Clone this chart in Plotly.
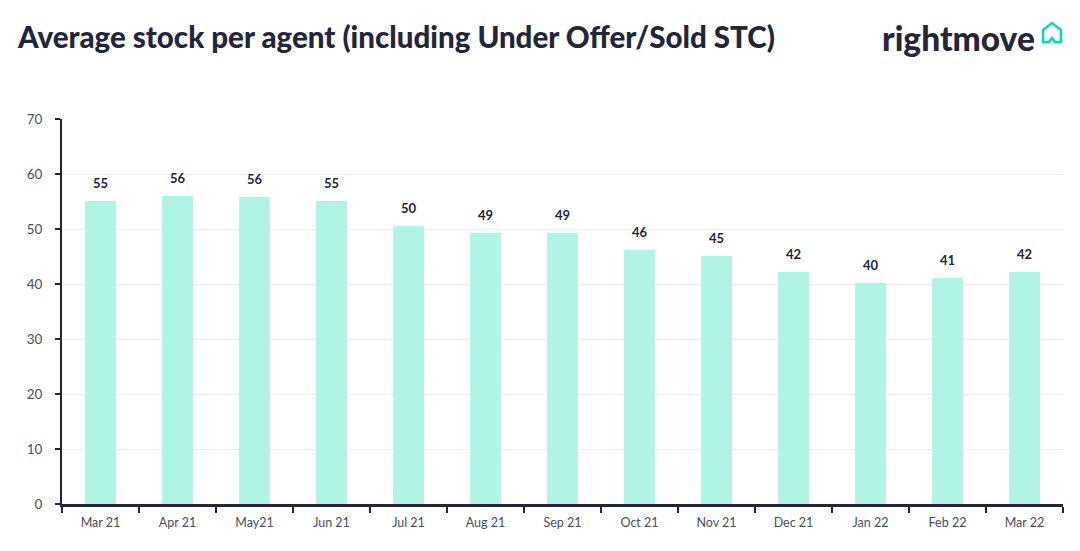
import plotly.graph_objects as go

months = ["Mar 21", "Apr 21", "May21", "Jun 21", "Jul 21", "Aug 21", "Sep 21",
          "Oct 21", "Nov 21", "Dec 21", "Jan 22", "Feb 22", "Mar 22"]
stock = [55.1, 56.0, 55.8, 55.1, 50.5, 49.3, 49.3, 46.2, 45.1, 42.2, 40.2, 41.1, 42.2]
labels = ["55", "56", "56", "55", "50", "49", "49", "46", "45", "42", "40", "41", "42"]
y_ticks = [0, 10, 20, 30, 40, 50, 60, 70]

navy = "#23263b"
teal_bar = "#b0f4e6"
W, H = 1080, 551
OFF = 8  # page body margin
L, T = 62 - OFF, 119 - OFF
R = W - (1063 - OFF)
B = H - (504 - OFF)

fig = go.Figure(go.Bar(
    x=months, y=stock,
    marker=dict(color=teal_bar, line=dict(width=0)),
    width=0.4, hoverinfo="skip"))

for m, v, t in zip(months, stock, labels):
    fig.add_annotation(x=m, y=v, text=t, showarrow=False, yanchor="bottom",
                       yshift=8, font=dict(family="Lato", size=13, color=navy, weight="bold"))

fig.update_layout(
    width=W, height=H, margin=dict(l=L, r=R, t=T, b=B),
    plot_bgcolor="white", paper_bgcolor="white", showlegend=False,
    font=dict(family="Lato", color="#555a66"),
    xaxis=dict(type="category", showgrid=False, showline=True, linecolor=navy,
               linewidth=2.5, ticks="outside", tickson="boundaries", ticklen=6,
               tickwidth=2, tickcolor=navy, tickfont=dict(size=12.5, color="#4a4f5c"),
               range=[-0.5, 12.5], ticklabelstandoff=5),
    yaxis=dict(range=[0, 70], tickvals=y_ticks, showgrid=True, gridcolor="#ececec",
               gridwidth=1, showline=True, linecolor=navy, linewidth=2,
               ticks="outside", ticklen=5, tickwidth=2, tickcolor=navy,
               tickfont=dict(size=13.5, color="#4a4f5c"), zeroline=False,
               ticklabelstandoff=10),
    bargap=0.6,
)

def px(x, y):
    x -= OFF
    y -= OFF
    return ((x - L) / (W - L - R), 1 + (T - y) / (H - T - B))

tx, ty = px(15, 36)
fig.add_annotation(text="Average stock per agent (including Under Offer/Sold STC)",
                   xref="paper", yref="paper", x=tx, y=ty,
                   xanchor="left", yanchor="middle", showarrow=False,
                   font=dict(family="Lato", size=29.5, color=navy, weight=900))
lx, ly = px(1037, 38)
fig.add_annotation(text="rightmove", xref="paper", yref="paper", x=lx, y=ly,
                   xanchor="right", yanchor="middle", showarrow=False,
                   font=dict(family="Lato", size=33.5, color="#262637", weight=900))

# house icon (logo decoration)
pts = [(1043, 42), (1043, 30), (1052, 23), (1061, 30), (1061, 42), (1055, 42), (1052, 38), (1049, 42)]
path = "M " + " L ".join(f"{px(a, b)[0]},{px(a, b)[1]}" for a, b in pts) + " Z"
fig.add_shape(type="path", path=path, xref="paper", yref="paper",
              line=dict(color="#00deb6", width=2.5), fillcolor="rgba(0,0,0,0)")

fig.write_html("out.html")
